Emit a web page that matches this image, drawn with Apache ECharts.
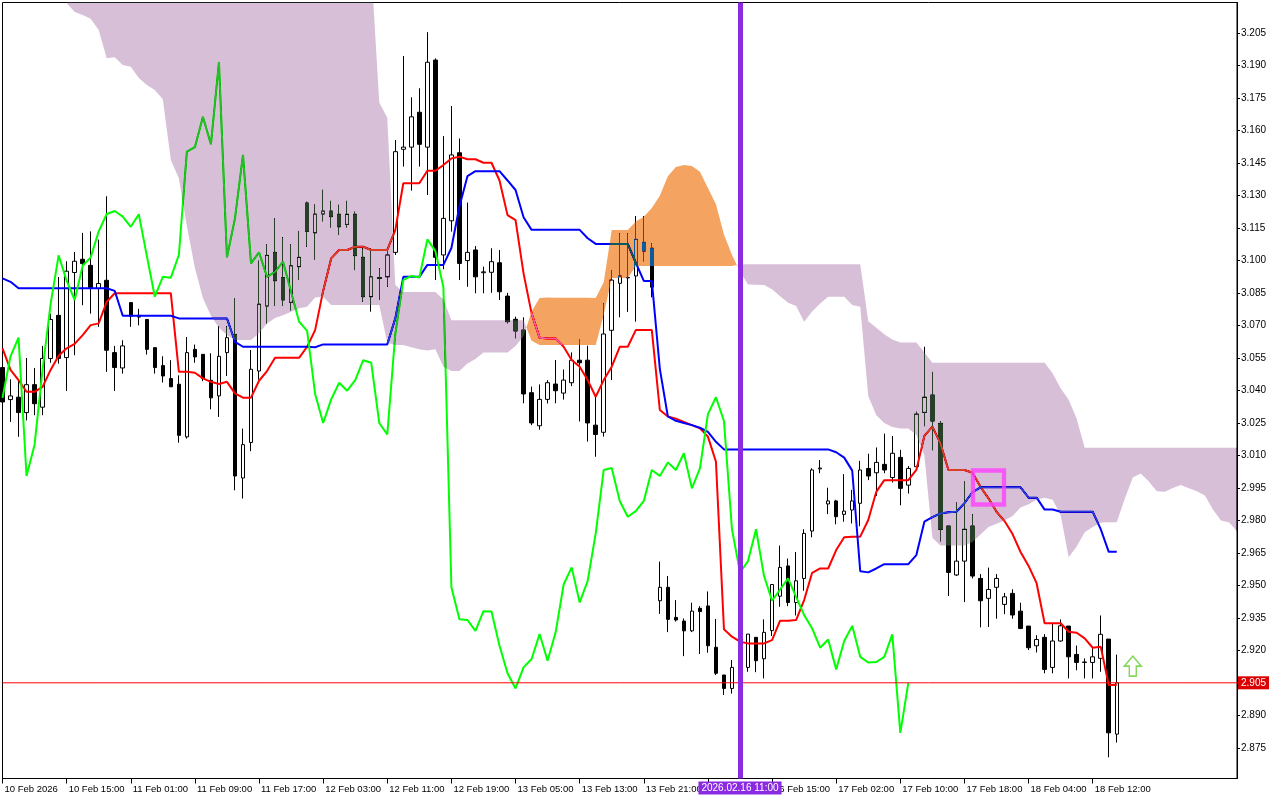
<!DOCTYPE html>
<html>
<head>
<meta charset="utf-8">
<script src="https://cdn.jsdelivr.net/npm/echarts@6/dist/echarts.min.js"></script>
<style>
html,body{margin:0;padding:0;background:#ffffff;}
#chart{width:1280px;height:800px;}
</style>
</head>
<body>
<div id="chart"></div>
<script>
// ---------- data ----------
const xTickLabels = ['10 Feb 2026','10 Feb 15:00','11 Feb 01:00','11 Feb 09:00','11 Feb 17:00','12 Feb 03:00',
  '12 Feb 11:00','12 Feb 19:00','13 Feb 05:00','13 Feb 13:00','13 Feb 21:00','16 Feb 07:00','16 Feb 15:00',
  '17 Feb 02:00','17 Feb 10:00','17 Feb 18:00','18 Feb 04:00','18 Feb 12:00'];
const labelStep = 8;
const yTicks = [2.875,2.890,2.905,2.920,2.935,2.950,2.965,2.980,2.995,3.010,3.025,3.040,3.055,3.070,3.085,3.100,
  3.115,3.130,3.145,3.160,3.175,3.190,3.205];
const yMin = 2.8608, yMax = 3.2192;

const opens = [
3.0506,3.0358,3.0369,3.0298,3.0427,3.0323,3.0548,3.0747,3.0552,3.0945,
3.1006,3.0978,3.0871,3.0909,3.0575,3.0504,3.0806,3.0747,3.0728,3.0598,
3.0515,3.0455,3.0429,3.0186,3.0590,3.0567,3.0447,3.0375,3.0575,3.0659,
2.9996,3.0160,3.0490,3.0790,3.1038,3.0921,3.0807,3.0972,3.1266,3.1128,
3.1215,3.1229,3.1214,3.1167,3.1214,3.1015,3.0833,3.0918,3.0925,3.1038,
3.1514,3.1524,3.1685,3.1524,3.1926,3.1026,3.1184,3.1498,3.1000,3.1049,
3.0944,3.0946,3.0990,3.0836,3.0729,3.0679,3.0390,3.0237,3.0359,3.0430,
3.0388,3.0436,3.0540,3.0540,3.0240,3.0207,3.0678,3.0895,3.0920,3.0929,
3.1084,3.1057,2.9429,2.9491,2.9352,2.9335,2.9290,2.9394,2.9405,2.9214,
2.9086,2.9024,2.9120,2.9121,2.9260,2.9161,2.9291,2.9450,2.9590,2.9421,
2.9532,2.9751,3.0038,2.9876,2.9890,2.9828,2.9848,2.9879,3.0040,3.0020,
3.0059,2.9998,3.0091,2.9963,3.0048,3.0299,3.0379,3.0248,2.9774,2.9548,
2.9612,2.9774,2.9532,2.9440,2.9491,2.9412,2.9463,2.9381,2.9312,2.9221,
2.9260,2.9121,2.9243,2.9312,2.9181,2.9144,2.9144,2.9163,2.9252,2.8813];
const closes = [
3.0347,3.0375,3.0298,3.0427,3.0339,3.0548,3.0728,3.0548,3.0951,3.0997,
3.0986,3.0871,3.0894,3.0586,3.0506,3.0606,3.0743,3.0739,3.0590,3.0506,
3.0467,3.0417,3.0193,3.0575,3.0555,3.0455,3.0366,3.0558,3.0644,3.0005,
3.0150,3.0498,3.0799,3.1024,3.0907,3.0818,3.0976,3.1015,3.1135,3.1215,
3.1229,3.1203,3.1156,3.1214,3.1023,3.0833,3.0925,3.0921,3.1026,3.1503,
3.1524,3.1664,3.1537,3.1916,3.1015,3.1195,3.1488,3.0987,3.1038,3.0925,
3.0948,3.0995,3.0856,3.0718,3.0675,3.0384,3.0250,3.0359,3.0436,3.0399,
3.0448,3.0540,3.0528,3.0250,3.0197,3.0661,3.0910,3.0929,3.0922,3.1098,
3.1044,3.0877,2.9491,2.9343,2.9340,2.9290,2.9381,2.9379,2.9221,2.9094,
2.9024,2.9121,2.9160,2.9275,2.9152,2.9283,2.9504,2.9583,2.9421,2.9521,
2.9740,3.0033,3.0042,2.9890,2.9817,2.9843,2.9890,3.0033,3.0005,3.0068,
3.0033,3.0110,2.9948,3.0040,3.0291,3.0369,3.0259,2.9759,2.9560,2.9612,
2.9759,2.9543,2.9429,2.9481,2.9532,2.9447,2.9363,2.9301,2.9212,2.9250,
2.9112,2.9243,2.9313,2.9170,2.9144,2.9146,2.9170,2.9274,2.8819,2.9050];
const lows = [
3.0320,3.0255,3.0186,3.0262,3.0286,3.0286,3.0528,3.0524,3.0398,3.0563,
3.0794,3.0755,3.0694,3.0486,3.0398,3.0478,3.0694,3.0701,3.0566,3.0478,
3.0437,3.0417,3.0159,3.0178,3.0528,3.0443,3.0313,3.0278,3.0467,2.9939,
2.9901,3.0120,3.0450,3.0710,3.0790,3.0790,3.0770,3.0910,3.1064,3.1005,
3.1181,3.1153,3.1118,3.1153,3.0956,3.0810,3.0764,3.0818,3.0879,3.1026,
3.1434,3.1323,3.1434,3.1303,3.0910,3.0960,3.1134,3.0910,3.0879,3.0849,
3.0849,3.0851,3.0818,3.0710,3.0641,3.0341,3.0240,3.0219,3.0340,3.0341,
3.0358,3.0420,3.0257,3.0164,3.0094,3.0187,3.0448,3.0738,3.0763,3.0718,
3.0997,3.0830,2.9368,2.9284,2.9333,2.9173,2.9284,2.9183,2.9189,2.9086,
2.8994,2.9000,2.9080,2.9101,2.9099,2.9070,2.9266,2.9401,2.9404,2.9361,
2.9475,2.9722,3.0018,2.9829,2.9782,2.9794,2.9786,2.9773,2.9986,2.9913,
3.0018,2.9975,2.9870,2.9924,3.0040,3.0235,3.0124,2.9703,2.9451,2.9543,
2.9423,2.9532,2.9306,2.9308,2.9346,2.9367,2.9346,2.9298,2.9201,2.9190,
2.9094,2.9094,2.9240,2.9070,2.9108,2.9070,2.9070,2.9101,2.8706,2.8774];
const highs = [
3.0530,3.0452,3.0452,3.0550,3.0504,3.0606,3.0755,3.0924,3.0997,3.1040,
3.1128,3.1135,3.1097,3.1297,3.0606,3.0632,3.0806,3.0777,3.0728,3.0598,
3.0558,3.0540,3.0470,3.0647,3.0612,3.0567,3.0572,3.0697,3.0697,3.0825,
3.0224,3.0587,3.1000,3.1075,3.1195,3.1108,3.1075,3.1137,3.1272,3.1259,
3.1327,3.1276,3.1258,3.1276,3.1226,3.1057,3.1057,3.0965,3.1057,3.1557,
3.1945,3.1754,3.1796,3.2055,3.1934,3.1575,3.1714,3.1564,3.1268,3.1067,
3.0972,3.1057,3.1049,3.0851,3.0741,3.0738,3.0418,3.0428,3.0448,3.0541,
3.0497,3.0576,3.0638,3.0607,3.0371,3.0803,3.0956,3.1126,3.1126,3.1206,
3.1206,3.1080,2.9610,2.9543,2.9432,2.9347,2.9420,2.9404,2.9472,2.9345,
2.9086,2.9155,2.9200,2.9275,2.9260,2.9343,2.9504,2.9684,2.9624,2.9654,
2.9759,3.0041,3.0079,2.9951,2.9895,3.0014,2.9941,3.0075,3.0108,3.0137,
3.0201,3.0190,3.0126,3.0051,3.0302,3.0602,3.0486,3.0259,2.9774,2.9883,
2.9980,2.9829,2.9552,2.9582,2.9552,2.9465,2.9482,2.9420,2.9312,2.9270,
2.9275,2.9324,2.9343,2.9312,2.9222,2.9163,2.9210,2.9361,2.9252,2.9180];

const tenkan = [
3.0595,3.0495,3.0448,3.0394,3.0394,3.0417,3.0495,3.0561,3.0595,3.0615,
3.0656,3.0702,3.0710,3.0810,3.0849,3.0849,3.0849,3.0849,3.0849,3.0849,
3.0849,3.0849,3.0487,3.0487,3.0482,3.0456,3.0440,3.0430,3.0440,3.0387,
3.0367,3.0367,3.0445,3.0490,3.0551,3.0551,3.0551,3.0551,3.0602,3.0679,
3.0860,3.1010,3.1049,3.1049,3.1064,3.1064,3.1049,3.1049,3.1049,3.1141,
3.1357,3.1357,3.1357,3.1415,3.1415,3.1441,3.1472,3.1480,3.1468,3.1468,
3.1452,3.1452,3.1370,3.1210,3.1187,3.0941,3.0756,3.0644,3.0640,3.0640,
3.0602,3.0541,3.0510,3.0448,3.0371,3.0448,3.0510,3.0602,3.0602,3.0679,
3.0679,3.0679,3.0310,3.0280,3.0270,3.0255,3.0240,3.0225,3.0187,3.0071,
2.9297,2.9263,2.9240,2.9232,2.9232,2.9232,2.9247,2.9337,2.9337,2.9340,
2.9432,2.9558,2.9578,2.9578,2.9663,2.9722,2.9725,2.9725,2.9802,2.9932,
2.9986,2.9986,2.9986,2.9986,3.0033,3.0190,3.0233,3.0156,3.0033,3.0033,
3.0033,3.0020,2.9955,2.9902,2.9840,2.9797,2.9737,2.9654,2.9590,2.9510,
2.9325,2.9325,2.9325,2.9286,2.9281,2.9255,2.9212,2.9217,2.9040,2.9040];
const kijun = [
3.0918,3.0902,3.0872,3.0872,3.0872,3.0872,3.0872,3.0872,3.0872,3.0872,
3.0872,3.0872,3.0872,3.0872,3.0860,3.0745,3.0745,3.0745,3.0745,3.0745,
3.0745,3.0745,3.0733,3.0733,3.0733,3.0733,3.0733,3.0733,3.0733,3.0625,
3.0602,3.0602,3.0602,3.0602,3.0602,3.0602,3.0602,3.0602,3.0602,3.0600,
3.0613,3.0613,3.0613,3.0613,3.0613,3.0613,3.0613,3.0613,3.0613,3.0733,
3.0925,3.0925,3.0925,3.0980,3.0980,3.0980,3.1058,3.1250,3.1390,3.1413,
3.1413,3.1413,3.1413,3.1370,3.1326,3.1200,3.1142,3.1142,3.1142,3.1142,
3.1142,3.1142,3.1142,3.1103,3.1077,3.1077,3.1077,3.1077,3.1077,3.0990,
3.0906,3.0906,3.0500,3.0280,3.0260,3.0250,3.0240,3.0228,3.0209,3.0163,
3.0128,3.0128,3.0128,3.0128,3.0128,3.0128,3.0128,3.0128,3.0128,3.0128,
3.0128,3.0128,3.0128,3.0128,3.0115,3.0090,3.0030,2.9565,2.9560,2.9578,
2.9598,2.9598,2.9598,2.9598,2.9640,2.9794,2.9815,2.9832,2.9838,2.9840,
2.9880,2.9930,2.9953,2.9953,2.9953,2.9953,2.9953,2.9953,2.9905,2.9905,
2.9850,2.9850,2.9840,2.9840,2.9840,2.9840,2.9840,2.9760,2.9655,2.9655];
const chikou = [
3.0366,3.0558,3.0644,3.0005,3.0150,3.0498,3.0799,3.1024,3.0907,3.0818,
3.0976,3.1015,3.1135,3.1215,3.1229,3.1203,3.1156,3.1214,3.1023,3.0833,
3.0925,3.0921,3.1026,3.1503,3.1524,3.1664,3.1537,3.1916,3.1015,3.1195,
3.1488,3.0987,3.1038,3.0925,3.0948,3.0995,3.0856,3.0718,3.0675,3.0384,
3.0250,3.0359,3.0436,3.0399,3.0448,3.0540,3.0528,3.0250,3.0197,3.0661,
3.0910,3.0929,3.0922,3.1098,3.1044,3.0877,2.9491,2.9343,2.9340,2.9290,
2.9381,2.9379,2.9221,2.9094,2.9024,2.9121,2.9160,2.9275,2.9152,2.9283,
2.9504,2.9583,2.9421,2.9521,2.9740,3.0033,3.0042,2.9890,2.9817,2.9843,
2.9890,3.0033,3.0005,3.0068,3.0033,3.0110,2.9948,3.0040,3.0291,3.0369,
3.0259,2.9759,2.9560,2.9612,2.9759,2.9543,2.9429,2.9481,2.9532,2.9447,
2.9363,2.9301,2.9212,2.9250,2.9112,2.9243,2.9313,2.9170,2.9144,2.9146,
2.9170,2.9274,2.8819,2.9050];
const spanA = [
3.2450,3.2420,3.2390,3.2360,3.2330,3.2300,3.2270,3.2240,3.2190,3.2148,
3.2134,3.2117,3.2065,3.1934,3.1939,3.1903,3.1895,3.1843,3.1811,3.1788,
3.1745,3.1465,3.1380,3.1160,3.0966,3.0827,3.0745,3.0690,3.0656,3.0633,
3.0633,3.0633,3.0664,3.0710,3.0735,3.0748,3.0764,3.0780,3.0787,3.0830,
3.0833,3.0795,3.0795,3.0795,3.0795,3.0795,3.0795,3.0795,3.0620,3.0610,
3.0610,3.0600,3.0590,3.0585,3.0590,3.0510,3.0490,3.0490,3.0525,3.0545,
3.0575,3.0575,3.0575,3.0575,3.0605,3.0650,3.0765,3.0827,3.0829,3.0828,
3.0828,3.0828,3.0828,3.0828,3.0827,3.0900,3.1141,3.1141,3.1141,3.1180,
3.1203,3.1243,3.1300,3.1390,3.1432,3.1441,3.1437,3.1410,3.1335,3.1260,
3.1120,3.1026,3.0950,3.0890,3.0888,3.0887,3.0868,3.0835,3.0805,3.0790,
3.0718,3.0765,3.0802,3.0833,3.0833,3.0833,3.0795,3.0787,3.0375,3.0286,
3.0250,3.0232,3.0225,3.0225,3.0196,3.0100,2.9720,2.9684,2.9684,2.9684,
2.9684,2.9700,2.9735,2.9770,2.9785,2.9800,2.9820,2.9860,2.9875,2.9895,
2.9905,2.9895,2.9825,2.9630,2.9680,2.9745,2.9770,2.9790,2.9791,2.9791,
2.9900,2.9998,3.0017,2.9980,2.9935,2.9932,2.9950,2.9963,2.9948,2.9935,
2.9915,2.9850,2.9800,2.9791,2.9750];
const spanB = [
3.2500,3.2500,3.2500,3.2500,3.2500,3.2500,3.2500,3.2500,3.2500,3.2500,
3.2500,3.2500,3.2500,3.2500,3.2500,3.2500,3.2500,3.2500,3.2500,3.2500,
3.2500,3.2500,3.2500,3.2500,3.2500,3.2500,3.2500,3.2500,3.2500,3.2500,
3.2500,3.2500,3.2500,3.2500,3.2500,3.2500,3.2500,3.2500,3.2500,3.2500,
3.2500,3.2500,3.2500,3.2500,3.2500,3.2500,3.2350,3.1730,3.1660,3.0887,
3.0855,3.0855,3.0855,3.0855,3.0855,3.0820,3.0725,3.0725,3.0725,3.0725,
3.0725,3.0725,3.0725,3.0725,3.0725,3.0725,3.0630,3.0610,3.0610,3.0610,
3.0610,3.0610,3.0610,3.0610,3.0610,3.0750,3.0920,3.0920,3.0920,3.0975,
3.0975,3.0975,3.0975,3.0975,3.0975,3.0975,3.0975,3.0975,3.0975,3.0975,
3.0975,3.0975,3.0983,3.0983,3.0983,3.0983,3.0983,3.0983,3.0983,3.0983,
3.0983,3.0983,3.0983,3.0983,3.0983,3.0983,3.0983,3.0983,3.0720,3.0690,
3.0660,3.0635,3.0622,3.0622,3.0622,3.0575,3.0528,3.0528,3.0528,3.0528,
3.0528,3.0528,3.0528,3.0528,3.0528,3.0528,3.0528,3.0528,3.0528,3.0528,
3.0528,3.0480,3.0410,3.0357,3.0270,3.0136,3.0136,3.0136,3.0136,3.0136,
3.0136,3.0136,3.0136,3.0136,3.0136,3.0136,3.0136,3.0136,3.0136,3.0136,
3.0136,3.0136,3.0136,3.0136,3.0136];

const priceNow = 2.905;
const vlineBar = 92;
const vlineText = '2026.02.16 11:00';
const squareMark = [123, 2.9952];
const arrowMark = [141, 2.9127];

// ---------- chart ----------
const N = spanA.length;
const cats = spanA.map((v, i) => String(i));
const candleData = opens.map((o, i) => [o, closes[i], lows[i], highs[i]]);
const isLabelIdx = (idx) => idx % labelStep === 0 && idx / labelStep < xTickLabels.length;

// inverted cloud colours, drawn with 'difference' blending so the cloud looks
// thistle / sandybrown on white and the marks underneath look XOR-ed as in MT5
const DOWN_KUMO_INV = 'rgb(39,64,39)';    // inverse of thistle
const UP_KUMO_INV = 'rgb(11,91,159)';     // inverse of sandybrown

function cloudRender(params, api) {
  if (params.dataIndex !== 0) return;
  const pA = spanA.map((v, i) => api.coord([i, v]));
  const pB = spanB.map((v, i) => api.coord([i, v]));
  const polys = [];
  let sideA = [pA[0]], sideB = [pB[0]];
  let up = spanA[0] > spanB[0];
  for (let i = 0; i < N - 1; i++) {
    const d0 = spanA[i] - spanB[i], d1 = spanA[i + 1] - spanB[i + 1];
    if ((d0 > 0) !== (d1 > 0) && d0 !== d1) {
      const t = d0 / (d0 - d1);
      const cx = pA[i][0] + t * (pA[i + 1][0] - pA[i][0]);
      const cy = pA[i][1] + t * (pA[i + 1][1] - pA[i][1]);
      sideA.push([cx, cy]); sideB.push([cx, cy]);
      polys.push({ pts: sideA.concat(sideB.slice().reverse()), up: up });
      sideA = [[cx, cy]]; sideB = [[cx, cy]];
      up = d1 > 0;
    }
    sideA.push(pA[i + 1]); sideB.push(pB[i + 1]);
  }
  polys.push({ pts: sideA.concat(sideB.slice().reverse()), up: up });
  return {
    type: 'group',
    children: polys.map(p => ({
      type: 'polygon',
      shape: { points: p.pts },
      style: { fill: p.up ? UP_KUMO_INV : DOWN_KUMO_INV, stroke: null }
    }))
  };
}

const FONT = 'Liberation Sans';
const chart = echarts.init(document.getElementById('chart'), null, { renderer: 'canvas' });
chart.setOption({
  animation: false,
  backgroundColor: '#ffffff',
  grid: {
    left: 2.5, right: 43, top: 2.5, bottom: 21.5,
    show: true, backgroundColor: '#ffffff', borderColor: '#000000', borderWidth: 1,
    containLabel: false, outerBoundsMode: 'none'
  },
  xAxis: {
    type: 'category',
    data: cats,
    boundaryGap: false,
    axisLine: { show: true, lineStyle: { color: '#000000', width: 1 } },
    axisTick: {
      show: true, length: 5, lineStyle: { color: '#000000' },
      interval: (idx) => isLabelIdx(idx)
    },
    axisLabel: {
      show: true, interval: (idx) => isLabelIdx(idx),
      formatter: (val, idx) => (isLabelIdx(idx) ? xTickLabels[idx / labelStep] : ''),
      align: 'left', padding: [0, 0, 0, 2], margin: 6,
      color: '#000000', fontFamily: FONT, fontSize: 9.5
    },
    splitLine: { show: false }
  },
  yAxis: {
    type: 'value',
    position: 'right',
    min: yMin, max: yMax,
    scale: true,
    axisLine: { show: true, lineStyle: { color: '#000000', width: 1 } },
    axisTick: { show: true, length: 3, customValues: yTicks, lineStyle: { color: '#000000' } },
    axisLabel: {
      show: true, customValues: yTicks, margin: 4,
      formatter: (v) => v.toFixed(3),
      color: '#000000', fontFamily: FONT, fontSize: 10
    },
    splitLine: { show: false }
  },
  series: [
    {
      type: 'candlestick', name: 'price', z: 2, silent: true,
      data: candleData,
      barWidth: 4,
      itemStyle: {
        color: '#ffffff', color0: '#000000',
        borderColor: '#000000', borderColor0: '#000000', borderColorDoji: '#000000',
        borderWidth: 1
      }
    },
    {
      type: 'line', name: 'Tenkan-sen', z: 3, silent: true, data: tenkan,
      showSymbol: false, symbol: 'none', lineStyle: { color: '#ff0000', width: 2 }
    },
    {
      type: 'line', name: 'Kijun-sen', z: 3, silent: true, data: kijun,
      showSymbol: false, symbol: 'none', lineStyle: { color: '#0000ff', width: 2 }
    },
    {
      type: 'line', name: 'Chikou Span', z: 3, silent: true, data: chikou,
      showSymbol: false, symbol: 'none', lineStyle: { color: '#00ff00', width: 2 }
    },
    {
      type: 'custom', name: 'Kumo', z: 4, silent: true, clip: true,
      blendMode: 'difference',
      data: [[0, spanA[0]]],
      encode: { x: 0, y: 1 },
      renderItem: cloudRender
    },
    {
      type: 'line', name: 'Bid', z: 9, silent: true, clip: false,
      data: [[0, priceNow], [N - 1, priceNow]],
      showSymbol: false, symbol: 'none',
      itemStyle: { color: '#ff0000' },
      lineStyle: { color: '#ff0000', width: 1, type: 'solid' },
      endLabel: {
        show: true, distance: 1, formatter: priceNow.toFixed(3),
        color: '#ffffff', backgroundColor: '#dd0000', padding: [2, 3, 1, 3],
        fontFamily: FONT, fontSize: 10
      }
    },
    {
      type: 'scatter', name: 'signal marks', z: 10, silent: true, clip: false,
      color: '#8a2be2',
      data: [
        { value: squareMark, symbol: 'rect', symbolSize: [31, 34],
          itemStyle: { color: 'rgba(0,0,0,0)', borderColor: '#ff40ff', borderWidth: 4.5 } },
        { value: arrowMark, symbol: 'path://M8.5,0 L17,10 L12,10 L12,20 L5,20 L5,10 L0,10 Z', symbolSize: [17, 20],
          itemStyle: { color: '#ffffff', borderColor: '#66cc33', borderWidth: 1.5 } }
      ],
      markLine: {
        silent: true, animation: false, symbol: ['none', 'none'], z: 10,
        lineStyle: { color: '#8a2be2', width: 5, type: 'solid', opacity: 1 },
        label: { show: true, position: 'start', distance: 3, formatter: vlineText,
          color: '#ffffff', backgroundColor: '#8a2be2', padding: [2, 3, 1, 3],
          fontFamily: FONT, fontSize: 10 },
        emphasis: { disabled: true },
        data: [ [ { coord: [String(vlineBar), yMin] }, { coord: [String(vlineBar), yMax] } ] ]
      }
    }
  ]
});
</script>
</body>
</html>
